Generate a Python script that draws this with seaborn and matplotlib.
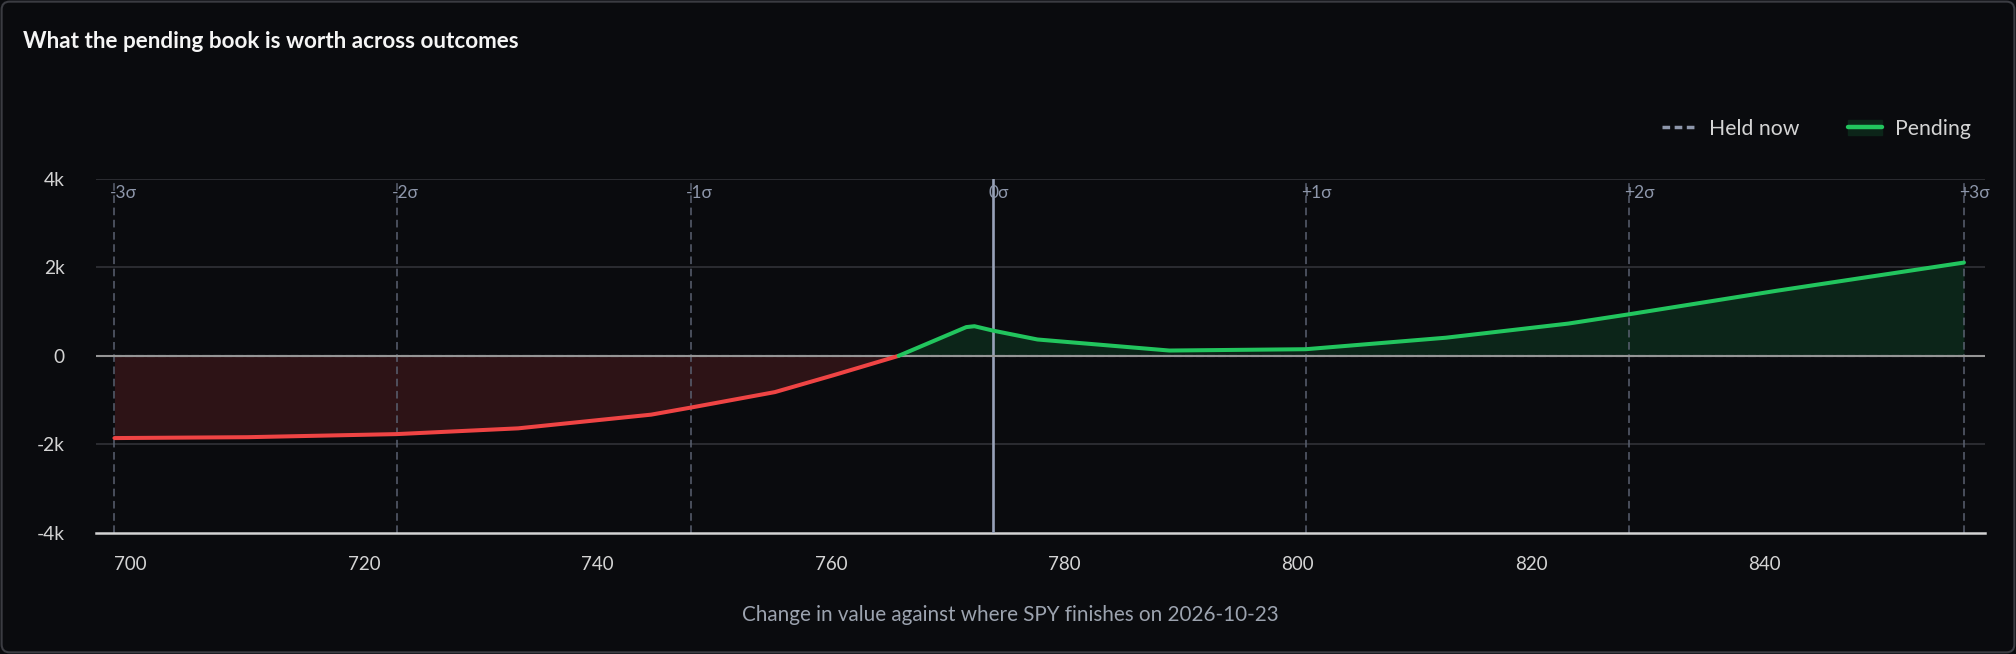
import numpy as np
import pandas as pd
import seaborn as sns
import matplotlib.pyplot as plt
from matplotlib.lines import Line2D
from matplotlib.patches import Patch, FancyBboxPatch

# sigma band levels (lognormal around spot)
spot = 773.9
sigma_labels = ['-3σ', '-2σ', '-1σ', '0σ', '+1σ', '+2σ', '+3σ']
sigma_levels = [698.6, 722.8, 748.0, 773.9, 800.7, 828.4, 857.1]

# pending book value vs SPY finish price
price = [698.6, 710.0, 722.8, 733.2, 744.6, 748.0, 755.2, 760.2, 765.8,
         771.6, 772.3, 773.9, 777.7, 789.0, 800.7, 812.7, 823.2, 828.4, 841.0, 857.1]
pending = [-1860, -1840, -1770, -1640, -1330, -1170, -820, -440, 0,
           650, 670, 570, 370, 120, 150, 410, 730, 940, 1470, 2110]
held_now = [0] * len(price)

x_ticks = [700, 720, 740, 760, 780, 800, 820, 840]
y_ticks = [-4000, -2000, 0, 2000, 4000]
y_tick_labels = ['-4k', '-2k', '0', '2k', '4k']

BG = '#0a0b0e'
RED, GREEN = '#ef4444', '#22c55e'
RED_FILL, GREEN_FILL = '#2d1316', '#0c2519'
MUTED = '#8e97ab'

sns.set_theme(style='dark', rc={
    'figure.facecolor': BG, 'axes.facecolor': BG, 'savefig.facecolor': BG,
    'text.color': '#d4d4d4', 'axes.labelcolor': '#9ca3af',
    'xtick.color': '#d4d4d4', 'ytick.color': '#d4d4d4',
    'axes.unicode_minus': False,
})
plt.rcParams['font.family'] = ['Lato', 'DejaVu Sans']

df = pd.DataFrame({'price': price, 'pending': pending, 'held': held_now})
df['side'] = np.where(df['pending'] < 0, 'loss', 'gain')
# zero crossing belongs to both segments
cross = df[df['pending'] == 0].copy()
cross['side'] = 'loss'
df = pd.concat([df, cross], ignore_index=True)

fig = plt.figure(figsize=(20.16, 6.54), dpi=100)
ax = fig.add_axes([0.0478, 0.1855, 0.9368, 0.5408])

loss = df[df['side'] == 'loss'].sort_values('price')
gain = df[df['side'] == 'gain'].sort_values('price')
ax.fill_between(loss['price'], 0, loss['pending'], color=RED_FILL, lw=0, zorder=1)
ax.fill_between(gain['price'], 0, gain['pending'], color=GREEN_FILL, lw=0, zorder=1)

for y in [2000, 4000, -2000]:
    ax.axhline(y, color='#2e2f34', lw=1.3, zorder=0.5)

for lvl, lab in zip(sigma_levels, sigma_labels):
    if lab == '0σ':
        ax.axvline(lvl, color='#98a2b8', lw=1.9, zorder=3)
    else:
        ax.axvline(lvl, color='#5a6171', lw=1.1, ls=(0, (5, 3)), zorder=2)
    ax.annotate(lab, xy=(lvl, 4000), xycoords='data', xytext=(-5, -14),
                textcoords='offset pixels', ha='left', va='center',
                fontsize=12.5, color=MUTED, zorder=5,
                family=['Lato', 'DejaVu Sans'])

sns.lineplot(data=df, x='price', y='held', ax=ax, color=MUTED, lw=1.5,
             linestyle='--', zorder=2, legend=False, estimator=None)
ax.axhline(0, color='#959595', lw=1.5, zorder=3)

sns.lineplot(data=df, x='price', y='pending', hue='side', estimator=None,
             palette={'loss': RED, 'gain': GREEN}, lw=2.9, ax=ax,
             legend=False, zorder=4, sort=True)

ax.set_xlim(697.05, 858.9)
ax.set_ylim(-4000, 4000)
ax.set_xticks(x_ticks)
ax.set_xticklabels([str(v) for v in x_ticks])
ax.set_yticks(y_ticks)
ax.set_yticklabels(y_tick_labels)
ax.tick_params(axis='x', length=12, width=1.4, color='#d4d4d4', pad=5, labelsize=13.5)
ax.tick_params(axis='y', length=0, pad=23, labelsize=13.8)
ax.grid(False)
for s in ['top', 'right', 'left']:
    ax.spines[s].set_visible(False)
ax.spines['bottom'].set_color('#d4d4d4')
ax.spines['bottom'].set_linewidth(1.8)
ax.set_ylabel('')
ax.set_xlabel('Change in value against where SPY finishes on 2026-10-23',
              fontsize=14.9, color='#9ca3af', va='center')
ax.xaxis.set_label_coords(0.484, -0.232)

handles = [Line2D([], [], color=MUTED, lw=2.5, ls=(0, (2.2, 1.3))),
           (Patch(color=GREEN_FILL), Line2D([], [], color=GREEN, lw=3.2))]
leg = ax.legend(handles, ['Held now', 'Pending'], ncol=2, loc='center right',
                bbox_to_anchor=(0.9926, 1.142), frameon=False, fontsize=15.3,
                handlelength=1.6, handletextpad=0.6, columnspacing=2.3,
                borderaxespad=0, borderpad=0)
for t in leg.get_texts():
    t.set_color('#d4d4d4')

fig.text(23 / 2016, 1 - 42 / 654, 'What the pending book is worth across outcomes',
         fontsize=16.2, fontweight='bold', color='#f5f5f5', va='center', ha='left')

fig.patches.append(FancyBboxPatch((0.0008, 0.0025), 0.9984, 0.995,
                                  boxstyle='round,pad=0,rounding_size=0.004',
                                  mutation_aspect=2016 / 654,
                                  transform=fig.transFigure, fill=False,
                                  ec='#3b3c42', lw=1.5))

fig.savefig('out.png', dpi=100)
